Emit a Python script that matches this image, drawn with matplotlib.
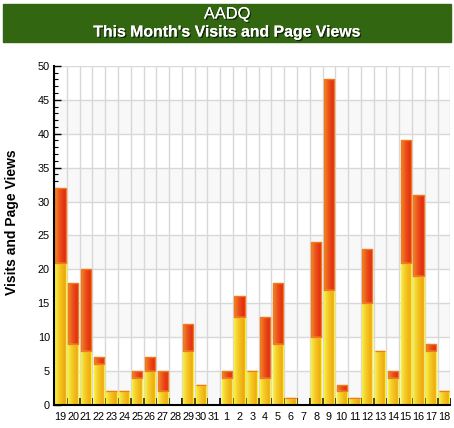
import numpy as np
import matplotlib
matplotlib.use("Agg")
import matplotlib.pyplot as plt
import matplotlib.ticker as mticker
import matplotlib.patheffects as pe
from matplotlib.colors import LinearSegmentedColormap

plt.rcParams["font.family"] = ["Liberation Sans", "DejaVu Sans"]

# ── Data ───────────────────────────────────────────────────────────────────────
days = [19, 20, 21, 22, 23, 24, 25, 26, 27, 28, 29, 30, 31,
        1, 2, 3, 4, 5, 6, 7, 8, 9, 10, 11, 12, 13, 14, 15, 16, 17, 18]
visits = [21, 9, 8, 6, 2, 2, 4, 5, 2, 0, 8, 3, 0,
          4, 13, 5, 4, 9, 1, 0, 10, 17, 2, 1, 15, 8, 4, 21, 19, 8, 2]
page_views = [32, 18, 20, 7, 2, 2, 5, 7, 5, 0, 12, 3, 0,
              5, 16, 5, 13, 18, 1, 0, 24, 48, 3, 1, 23, 8, 5, 39, 31, 9, 2]

# ── Style ──────────────────────────────────────────────────────────────────────
BANNER = "#336611"
GRID = "#d8d8d8"
BAND = "#f8f8f8"
YELLOW_EDGE = "#f7ef3a"
RED_EDGE = "#f07a1c"
yellow_cmap = LinearSegmentedColormap.from_list("yel", ["#f6ea50", "#f3c21c", "#eea010"])
red_cmap = LinearSegmentedColormap.from_list("red", ["#ef8a26", "#ea4a18", "#e22410"])

fig = plt.figure(figsize=(4.54, 4.28), dpi=100)
ax = fig.add_axes([0.119, 0.054, 0.873, 0.792])

# banner
fig.patches.append(plt.Rectangle((3 / 454, 1 - 42 / 428), 448 / 454, 38 / 428,
                                 transform=fig.transFigure, color=BANNER, zorder=0))
shadow = [pe.withSimplePatchShadow(offset=(1, -1), shadow_rgbFace="#10200a", alpha=0.9),
          pe.Normal()]
fig.text(0.5, 1 - 14 / 428, "AADQ", color="white", fontsize=11.8,
         ha="center", va="center", path_effects=shadow)
fig.text(0.5, 1 - 32 / 428, "This Month's Visits and Page Views", color="white",
         fontsize=11.4, fontweight="bold", ha="center", va="center", path_effects=shadow)

x = np.arange(len(days))
n = len(days)

# alternating bands
for lo in range(0, 50, 10):
    ax.axhspan(lo, lo + 5, color=BAND, zorder=0, lw=0)

grad = np.linspace(0, 1, 64).reshape(1, -1)
extra = [p - v for p, v in zip(page_views, visits)]
bars_v = ax.bar(x, visits, width=0.8, facecolor="none", edgecolor=YELLOW_EDGE,
                lw=1.0, zorder=3)
bars_p = ax.bar(x, extra, bottom=visits, width=0.8, facecolor="none",
                edgecolor=RED_EDGE, lw=1.0, zorder=3)

for bars, cmap in [(bars_v, yellow_cmap), (bars_p, red_cmap)]:
    for b in bars:
        if b.get_height() <= 0:
            continue
        bx, by = b.get_x(), b.get_y()
        im = ax.imshow(grad, cmap=cmap, aspect="auto", zorder=2,
                       extent=[bx, bx + b.get_width(), by, by + b.get_height()],
                       interpolation="bilinear")
        im.set_clip_path(b)

ax.set_xlim(-0.5, n - 0.5)
ax.set_ylim(0, 50)

# ticks and grid
ax.xaxis.set_major_locator(mticker.FixedLocator(np.arange(-0.5, n, 1.0)))
ax.xaxis.set_major_formatter(mticker.NullFormatter())
ax.xaxis.set_minor_locator(mticker.FixedLocator(x))
ax.xaxis.set_minor_formatter(mticker.FixedFormatter([str(d) for d in days]))
ax.tick_params(axis="x", which="major", direction="in", length=5, width=1.2,
               color="black")
ax.tick_params(axis="x", which="minor", length=0, labelsize=7.8, pad=5)

ax.yaxis.set_major_locator(mticker.MultipleLocator(5))
ax.yaxis.set_minor_locator(mticker.MultipleLocator(1))
ax.tick_params(axis="y", which="major", direction="in", length=5, width=1.0,
               labelsize=7.8, pad=3)
ax.tick_params(axis="y", which="minor", direction="in", length=3, width=0.8)

ax.grid(True, which="major", axis="both", color=GRID, lw=1.0, zorder=1)
ax.set_axisbelow(True)

for s in ["top", "right"]:
    ax.spines[s].set_visible(False)
for s in ["left", "bottom"]:
    ax.spines[s].set_linewidth(1.5)
    ax.spines[s].set_zorder(5)

fig.text(12 / 454, 1 - 222 / 428, "Visits and Page Views", fontsize=10,
         fontweight="bold", rotation=90, ha="center", va="center")

fig.savefig("out.png", dpi=100)
